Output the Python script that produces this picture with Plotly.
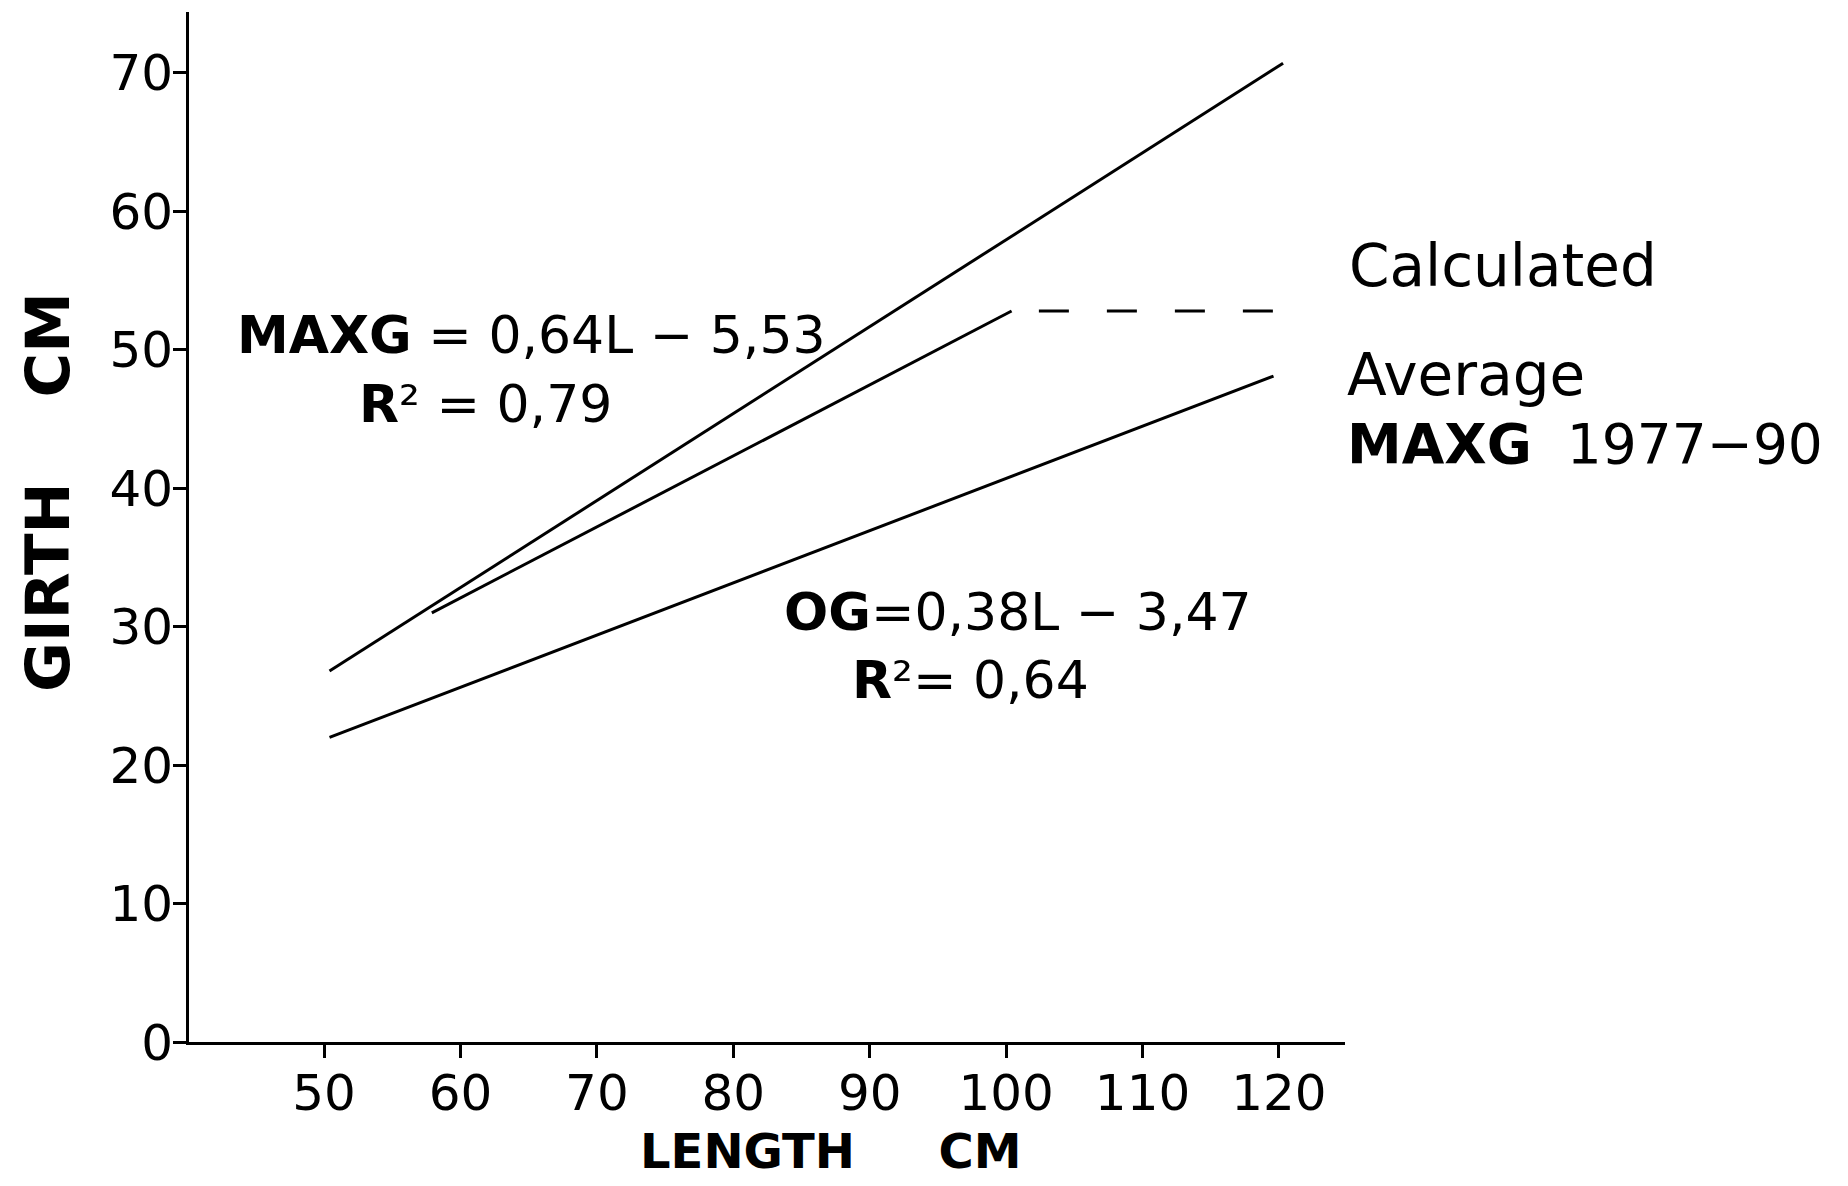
import plotly.graph_objects as go

# ---- data ----
maxg_x = [50.4, 120.3]
maxg_y = [26.8, 70.7]
avg_x = [57.9, 100.4]
avg_y = [31.0, 52.8]
avg_ext_x = [102.4, 120.3]
avg_ext_y = [52.8, 52.8]
og_x = [50.4, 119.6]
og_y = [22.0, 48.1]

x_ticks = [50, 60, 70, 80, 90, 100, 110, 120]
y_ticks = [0, 10, 20, 30, 40, 50, 60, 70]

FONT = "DejaVu Sans"
OFF = 8  # page body margin of the browser
W, H = 1832, 1170
# plot area in window pixels, converted to figure pixels
L, R, T, B = 189 - OFF, 1345 - OFF, 12 - OFF, 1042 - OFF

fig = go.Figure()
line_style = dict(color="black", width=3)
fig.add_trace(go.Scatter(x=maxg_x, y=maxg_y, mode="lines", line=line_style, showlegend=False))
fig.add_trace(go.Scatter(x=avg_x, y=avg_y, mode="lines", line=line_style, showlegend=False))
fig.add_trace(go.Scatter(x=avg_ext_x, y=avg_ext_y, mode="lines",
                         line=dict(color="black", width=3, dash="30px,38px"), showlegend=False))
fig.add_trace(go.Scatter(x=og_x, y=og_y, mode="lines", line=line_style, showlegend=False))


def px(xw):
    return (xw - OFF - L) / (R - L)


def py(yw):
    return (B - (yw - OFF)) / (B - T)


annots = [
    dict(text="<b>MAXG</b> = 0,64L − 5,53", x=531, y=335, size=52, xa="center"),
    dict(text="<b>R</b>² = 0,79", x=485, y=404, size=52, xa="center"),
    dict(text="<b>OG</b>=0,38L − 3,47", x=1018, y=612, size=52, xa="center"),
    dict(text="<b>R</b>²= 0,64", x=970, y=680, size=52, xa="center"),
    dict(text="Calculated", x=1347, y=266, size=58, xa="left"),
    dict(text="Average", x=1345, y=375, size=58, xa="left"),
    dict(text="<b>MAXG</b>  1977−90", x=1345, y=444, size=55, xa="left"),
    dict(text="<b>LENGTH     CM</b>", x=831, y=1151, size=48, xa="center"),
]
for a in annots:
    fig.add_annotation(text=a["text"], xref="paper", yref="paper",
                       x=px(a["x"]), y=py(a["y"]), xanchor=a["xa"], yanchor="middle",
                       showarrow=False, font=dict(family=FONT, size=a["size"], color="black"))

fig.add_annotation(text="<b>GIRTH    CM</b>", xref="paper", yref="paper",
                   x=px(47), y=py(492), xanchor="center", yanchor="middle",
                   textangle=-90, showarrow=False,
                   font=dict(family=FONT, size=61, color="black"))

fig.update_layout(
    width=W, height=H,
    margin=dict(l=L, r=W - R, t=T, b=H - B, pad=0),
    paper_bgcolor="white", plot_bgcolor="white",
    font=dict(family=FONT, color="black"),
    showlegend=False,
)
fig.update_xaxes(
    range=[40.1, 124.84], tickvals=x_ticks, ticktext=[str(v) for v in x_ticks],
    showgrid=False, zeroline=False, showline=True, linecolor="black", linewidth=3,
    ticks="outside", ticklen=13, tickwidth=2.5, tickcolor="black",
    tickfont=dict(family=FONT, size=50, color="black"), ticklabelstandoff=-8,
    automargin=False,
)
fig.update_yaxes(
    range=[0, 74.4], tickvals=y_ticks, ticktext=[str(v) for v in y_ticks],
    showgrid=False, zeroline=False, showline=True, linecolor="black", linewidth=3,
    ticks="outside", ticklen=13, tickwidth=2.5, tickcolor="black",
    tickfont=dict(family=FONT, size=50, color="black"), ticklabelstandoff=-10,
    automargin=False,
)

fig.write_html("out.html")
